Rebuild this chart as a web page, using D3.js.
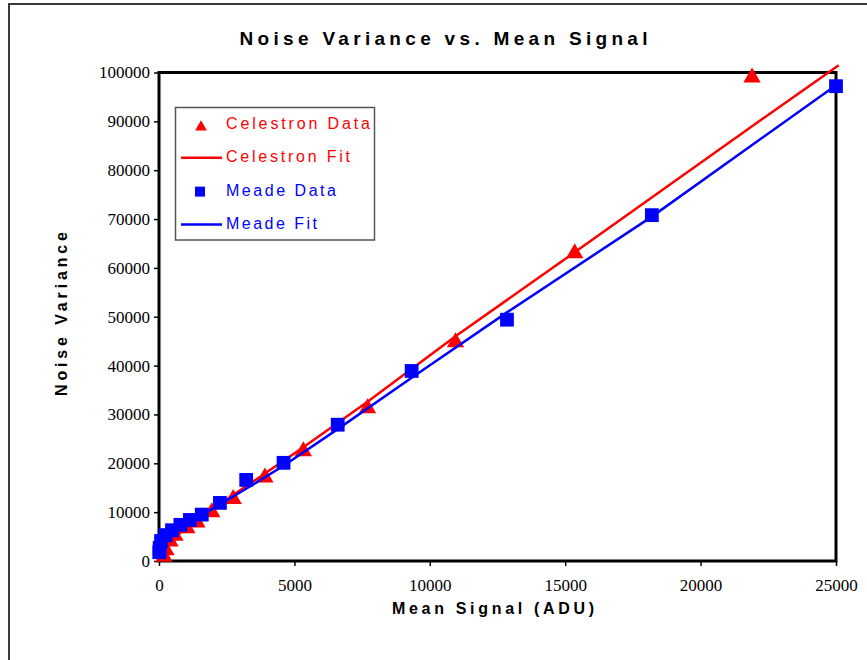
<!DOCTYPE html>
<html>
<head>
<meta charset="utf-8">
<script src="https://cdn.jsdelivr.net/npm/d3@7"></script>
<style>
  body { margin: 0; background: #fff; }
  svg { display: block; }
</style>
</head>
<body>
<svg id="chart" width="867" height="660"></svg>
<script>
// celestron points
var celestronSignal = [21900, 15350, 10950, 7700, 5330, 3910, 2740, 1950, 1400, 1030, 590, 406, 260, 185];
var celestronVar    = [99500, 63500, 45300, 31800, 23000, 17600, 13200, 10500, 8400, 7200, 5700, 4500, 2700, 1400];

var celestronFitSignal = [185, 260, 406, 590, 1030, 1400, 1950, 2740, 3910, 5330, 7700, 10950, 15350, 21900, 25100];
var celestronFitVar    = [2000, 2700, 3800, 4900, 6800, 8300, 10500, 13500, 17900, 23300, 32600, 46000, 63200, 89000, 101500];

// meade points
var meadeSignal = [25000, 18200, 12850, 9330, 6600, 4600, 3220, 2250, 1580, 1140, 790, 480, 240, 75, 25, 10];
var meadeVar    = [97200, 70800, 49400, 38900, 27900, 20100, 16600, 11900, 9500, 8400, 7400, 6300, 5300, 4100, 2700, 1800];

var meadeFitSignal = [10, 25, 75, 240, 480, 790, 1140, 1580, 2250, 3220, 4600, 6600, 9330, 12850, 18200, 25000];
var meadeFitVar    = [2200, 2900, 3900, 5000, 6100, 7100, 8100, 9400, 11600, 14800, 19500, 27000, 37500, 50900, 70500, 97400];

var xTicks = [0, 5000, 10000, 15000, 20000, 25000];
var yTicks = [0, 10000, 20000, 30000, 40000, 50000, 60000, 70000, 80000, 90000, 100000];

var svg = d3.select("#chart");
var plotLeft = 159, plotRight = 836, plotTop = 72.5, plotBottom = 561;

var x = d3.scaleLinear().domain([0, 25000]).range([plotLeft, plotRight]);
var y = d3.scaleLinear().domain([0, 100000]).range([plotBottom, plotTop]);

// outer frame of the chart object
svg.append("rect")
  .attr("x", 9).attr("y", 4).attr("width", 900).attr("height", 700)
  .attr("fill", "none").attr("stroke", "#3a3a3a").attr("stroke-width", 2);

// title
svg.append("text")
  .attr("x", 443.5).attr("y", 44.5)
  .attr("text-anchor", "middle")
  .attr("textLength", 408).attr("lengthAdjust", "spacing")
  .style("font-family", "'Liberation Sans', Arial, sans-serif")
  .style("font-weight", "bold").style("font-size", "19px")
  .text("Noise Variance vs. Mean Signal");

// axes
var yAxis = d3.axisLeft(y).tickValues(yTicks).tickSize(5).tickPadding(4).tickFormat(d3.format("d"));
var xAxis = d3.axisBottom(x).tickValues(xTicks).tickSize(5).tickPadding(13).tickFormat(d3.format("d"));

var gy = svg.append("g").attr("transform", "translate(" + plotLeft + ",0)").call(yAxis);
var gx = svg.append("g").attr("transform", "translate(0," + plotBottom + ")").call(xAxis);
[gx, gy].forEach(function (g) {
  g.select(".domain").remove();
  g.selectAll("line").attr("stroke", "#000").attr("stroke-width", 1.5);
  g.selectAll("text")
    .style("font-family", "'Liberation Serif', 'Times New Roman', serif")
    .style("font-size", "17px").attr("fill", "#000");
});

// plot frame
svg.append("rect")
  .attr("x", plotLeft).attr("y", plotTop)
  .attr("width", plotRight - plotLeft).attr("height", plotBottom - plotTop)
  .attr("fill", "none").attr("stroke", "#000").attr("stroke-width", 3);

// axis titles
svg.append("text")
  .attr("x", 493).attr("y", 614)
  .attr("text-anchor", "middle")
  .attr("textLength", 202).attr("lengthAdjust", "spacing")
  .style("font-family", "'Liberation Sans', Arial, sans-serif")
  .style("font-weight", "bold").style("font-size", "16px")
  .text("Mean Signal (ADU)");

svg.append("text")
  .attr("transform", "translate(67,314) rotate(-90)")
  .attr("text-anchor", "middle")
  .attr("textLength", 164).attr("lengthAdjust", "spacing")
  .style("font-family", "'Liberation Sans', Arial, sans-serif")
  .style("font-weight", "bold").style("font-size", "16px")
  .text("Noise Variance");

// series
var line = d3.line()
  .x(function (d) { return x(d[0]); })
  .y(function (d) { return y(d[1]); });

// excel centres markers on their box, d3 triangles sit on the centroid -> shift down a bit
var tri = d3.symbol().type(d3.symbolTriangle).size(130);
var sq = d3.symbol().type(d3.symbolSquare).size(190);

svg.append("g").selectAll("path")
  .data(d3.zip(celestronSignal, celestronVar))
  .enter().append("path")
  .attr("d", tri)
  .attr("transform", function (d) { return "translate(" + x(d[0]) + "," + (y(d[1]) + 2.5) + ")"; })
  .attr("fill", "#ff0000");

svg.append("path")
  .datum(d3.zip(celestronFitSignal, celestronFitVar))
  .attr("d", line)
  .attr("fill", "none").attr("stroke", "#ff0000").attr("stroke-width", 2.5);

svg.append("g").selectAll("path")
  .data(d3.zip(meadeSignal, meadeVar))
  .enter().append("path")
  .attr("d", sq)
  .attr("transform", function (d) { return "translate(" + x(d[0]) + "," + y(d[1]) + ")"; })
  .attr("fill", "#0000ff");

svg.append("path")
  .datum(d3.zip(meadeFitSignal, meadeFitVar))
  .attr("d", line)
  .attr("fill", "none").attr("stroke", "#0000ff").attr("stroke-width", 2.5);

// legend
var legendItems = [
  { name: "Celestron Data", color: "#ff0000", kind: "tri", w: 144 },
  { name: "Celestron Fit", color: "#ff0000", kind: "line", w: 124 },
  { name: "Meade Data", color: "#0000ff", kind: "sq", w: 110 },
  { name: "Meade Fit", color: "#0000ff", kind: "line", w: 91 }
];

var legend = svg.append("g");
legend.append("rect")
  .attr("x", 175.5).attr("y", 107.5).attr("width", 199).attr("height", 132.5)
  .attr("fill", "#fff").attr("stroke", "#555").attr("stroke-width", 1.5);

legendItems.forEach(function (item, i) {
  var cy = 123.5 + i * 33.3;
  if (item.kind == "line") {
    legend.append("line")
      .attr("x1", 181).attr("x2", 222).attr("y1", cy + 1).attr("y2", cy + 1)
      .attr("stroke", item.color).attr("stroke-width", 2.5);
  } else if (item.kind == "tri") {
    legend.append("path")
      .attr("d", d3.symbol().type(d3.symbolTriangle).size(60))
      .attr("transform", "translate(201," + (cy + 3.5) + ")")
      .attr("fill", item.color);
  } else {
    legend.append("path")
      .attr("d", d3.symbol().type(d3.symbolSquare).size(100))
      .attr("transform", "translate(200," + (cy + 1.5) + ")")
      .attr("fill", item.color);
  }
  legend.append("text")
    .attr("x", 226).attr("y", cy + 5.5)
    .attr("textLength", item.w).attr("lengthAdjust", "spacing")
    .style("font-family", "'Liberation Sans', Arial, sans-serif")
    .style("font-size", "16px")
    .attr("fill", item.color)
    .text(item.name);
});
</script>
</body>
</html>
